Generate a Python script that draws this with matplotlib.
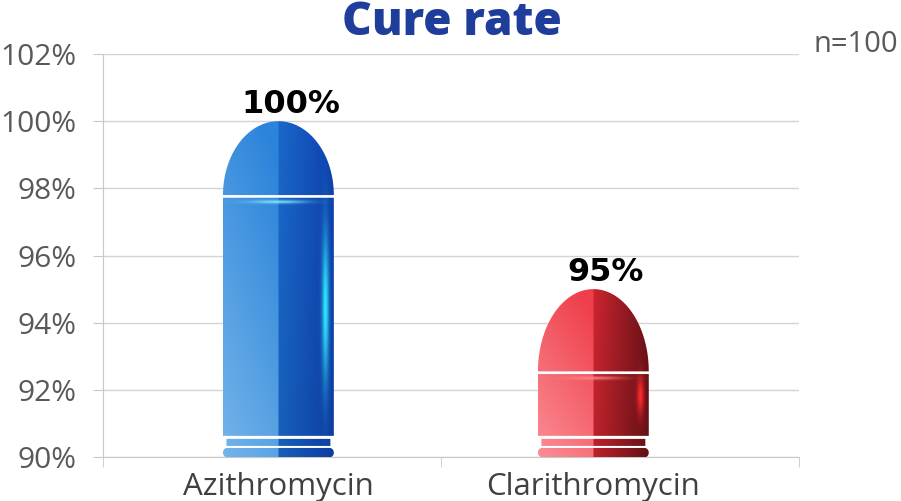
import numpy as np
import matplotlib.pyplot as plt
from matplotlib.path import Path
from matplotlib.patches import PathPatch
from matplotlib.colors import to_rgb

drugs = ['Azithromycin', 'Clarithromycin']
cure_rate = [100, 95]
value_labels = ['100%', '95%']
yticks = [90, 92, 94, 96, 98, 100, 102]
ytick_labels = ['90%', '92%', '94%', '96%', '98%', '100%', '102%']
title = 'Cure rate'
note = 'n=100'

# capsule colours: left top, left bottom, right middle, right edge, glow
palettes = [
    ['#2c84da', '#74b4ea', '#1a68ca', '#0e42ae', '#30e6ff'],
    ['#ef3f4b', '#fb8e96', '#cc2530', '#6c1217', '#ff2a2a'],
]
dome_h = [2.2, 2.45]
bar_w = 0.352

font = 'Open Sans'
grey = '#595959'

fig = plt.figure(figsize=(9.01, 5.01), dpi=100)
ax = fig.add_axes([0.1143, 0.0878, 0.7725, 0.8044])


def half_ellipse(cx, w, yb, h, n=80):
    th = np.linspace(0, np.pi, n)
    return np.column_stack([cx + w / 2 * np.cos(th), yb + h * np.sin(th)])


def rect(x0, x1, y0, y1):
    return np.array([[x0, y0], [x1, y0], [x1, y1], [x0, y1]])


def stadium(x0, x1, y0, y1, rx):
    ry = (y1 - y0) / 2
    yc = (y0 + y1) / 2
    th = np.linspace(-np.pi / 2, np.pi / 2, 20)
    right = np.column_stack([x1 - rx + rx * np.cos(th), yc + ry * np.sin(th)])
    left = np.column_stack([x0 + rx - rx * np.cos(th[::-1]), yc + ry * np.sin(th[::-1])])
    return np.vstack([right, left])


def closed(pts):
    return Path(np.vstack([pts, pts[:1]]), closed=True)


for i, (v, pal) in enumerate(zip(cure_rate, palettes)):
    x0, x1 = i - bar_w / 2, i + bar_w / 2
    dome_base = v - dome_h[i]
    body_top = dome_base - 0.08
    parts = [
        half_ellipse(i, bar_w, dome_base, dome_h[i]),
        rect(x0, x1, 90.63, body_top),
        rect(x0 + 0.011, x1 - 0.011, 90.33, 90.54),
        stadium(x0, x1, 89.99, 90.27, 0.013),
    ]
    clip = PathPatch(Path.make_compound_path(*[closed(p) for p in parts]),
                     transform=ax.transData, facecolor='none', edgecolor='none')
    ax.add_patch(clip)

    # gradient image
    nh, nw = 500, 240
    u = np.linspace(0, 1, nw)[None, :]
    yy = np.linspace(89.95, v, nh)[:, None]
    t = (yy - 90) / (v - 90)
    lt, lb, rm, re, gl = [np.array(to_rgb(c)) for c in pal]
    s_left = np.clip(0.75 * t + 0.35 * (u / 0.5), 0, 1)[..., None]
    left = lb * (1 - s_left) + lt * s_left
    s_right = np.clip((u - 0.5) / 0.5, 0, 1)[..., None]
    right = rm * (1 - s_right) + re * s_right
    right = right * (0.92 + 0.08 * t[..., None])
    img = np.where((u < 0.5)[..., None], left, right)
    img = np.broadcast_to(img, (nh, nw, 3)).copy()

    # glows
    mid = (body_top + 90.6) / 2 + 0.3
    g_v = np.exp(-((u - 0.925) / 0.03) ** 2) * np.exp(-((yy - mid) / (0.3 * (body_top - 90.6))) ** 2)
    g_h = np.exp(-((u - 0.5) / 0.25) ** 2) * np.exp(-((yy - (body_top - 0.12)) / 0.05) ** 2)
    img = img * (1 - g_v[..., None]) + gl * g_v[..., None]
    hl = np.array([1.0, 1.0, 1.0]) * 0.45 + gl * 0.55
    img = img * (1 - 0.85 * g_h[..., None]) + hl * 0.85 * g_h[..., None]

    im = ax.imshow(img, extent=[x0, x1, 89.95, v], origin='lower',
                   aspect='auto', interpolation='bilinear', zorder=3)
    im.set_clip_path(clip)

    ax.annotate(value_labels[i], (i, v), xytext=(9, 1), textcoords='offset points',
                ha='center', va='bottom', fontsize=23, fontweight='bold',
                family='DejaVu Sans', color='black', zorder=5)

ax.set_xlim(-0.557, 1.653)
ax.set_ylim(90, 102)
ax.set_yticks(yticks)
ax.set_yticklabels(ytick_labels, family=font, fontsize=21.5, color=grey)
ax.tick_params(axis='y', length=7, color='#c8c8c8', pad=12)
ax.grid(axis='y', color='#d4d4d4', linewidth=1, zorder=0)
ax.set_axisbelow(True)

ax.set_xticks(np.arange(len(drugs)))
ax.set_xticklabels(drugs, family=font, fontsize=22.5, color='#404040')
ax.tick_params(axis='x', which='major', length=0, pad=11)
ax.set_xticks([-0.557, 0.516, 1.653], minor=True)
ax.tick_params(axis='x', which='minor', length=7, color='#c8c8c8')

for side in ['top', 'right']:
    ax.spines[side].set_visible(False)
for side in ['left', 'bottom']:
    ax.spines[side].set_color('#c8c8c8')

fig.text(0.502, 1.0, title, ha='center', va='top', fontsize=33,
         fontweight='heavy', family=font, color='#1f3d9a')
fig.text(0.997, 0.882, note, ha='right', va='bottom', fontsize=21,
         family=font, color=grey)

fig.savefig('out.png', dpi=100)
